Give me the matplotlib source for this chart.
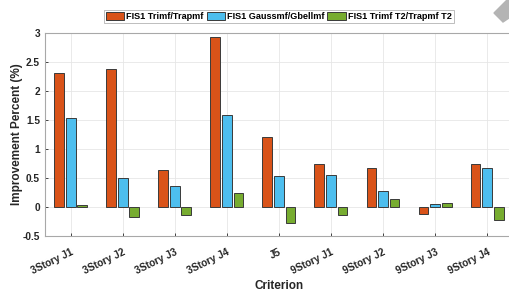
import matplotlib
matplotlib.use('Agg')
import matplotlib.pyplot as plt
from matplotlib.patches import Polygon
import numpy as np

plt.rcParams['font.family'] = ['Liberation Sans', 'DejaVu Sans']
plt.rcParams['font.weight'] = 'bold'

# 数据
criteria = ['3Story J1', '3Story J2', '3Story J3', '3Story J4', 'J5',
            '9Story J1', '9Story J2', '9Story J3', '9Story J4']
trimf = [2.32, 2.38, 0.64, 2.94, 1.20, 0.75, 0.67, -0.12, 0.74]
gauss = [1.53, 0.50, 0.36, 1.58, 0.54, 0.55, 0.27, 0.05, 0.67]
trimf_t2 = [0.03, -0.18, -0.13, 0.25, -0.27, -0.14, 0.13, 0.07, -0.22]
labels = ['FIS1 Trimf/Trapmf', 'FIS1 Gaussmf/Gbellmf', 'FIS1 Trimf T2/Trapmf T2']
colors = ['#D95319', '#4DBEEE', '#77AC30']

W, H = 509, 291
fig = plt.figure(figsize=(W / 100, H / 100), dpi=100)
ax = fig.add_axes([0.088, 0.189, 0.920, 0.697])

x = np.arange(1, len(criteria) + 1)
w = 0.19
for i, (vals, lab, c) in enumerate(zip([trimf, gauss, trimf_t2], labels, colors)):
    ax.bar(x + (i - 1) * 0.222, vals, w, color=c, edgecolor='#3a3a3a',
           linewidth=0.7, label=lab, zorder=3)

ax.set_xlim(0.5, 9.5)
ax.set_ylim(-0.5, 3)
ax.set_yticks([-0.5, 0, 0.5, 1, 1.5, 2, 2.5, 3])
ax.set_yticklabels(['-0.5', '0', '0.5', '1', '1.5', '2', '2.5', '3'])
ax.set_xticks(x)
ax.set_xticklabels(criteria, rotation=26, ha='right', rotation_mode='anchor')
ax.tick_params(labelsize=7.3, colors='#262626', length=2.5, width=0.6, direction='in')
ax.tick_params(axis='x', pad=8)
ax.grid(True, color='#e6e6e6', linewidth=0.6, zorder=0)
for s in ax.spines.values():
    s.set_color('#a8a8a8')
    s.set_linewidth(0.8)

ax.set_xlabel('Criterion', fontsize=8.5, fontweight='bold', color='#262626', labelpad=3)
ax.set_ylabel('Improvement Percent (%)', fontsize=8.5, fontweight='bold', color='#262626', labelpad=0)

leg = ax.legend(loc='lower center', bbox_to_anchor=(0.5, 1.05), ncol=3, fontsize=6.6,
                frameon=True, fancybox=False, edgecolor='#a0a0a0', handlelength=2.0,
                handleheight=0.9, columnspacing=0.3, handletextpad=0.25, borderpad=0.2,
                borderaxespad=0.0)
leg.get_frame().set_linewidth(0.6)

# 右上角的灰色图标
pts = [(494, 13), (507, 0), (509, 0), (509, 18), (503, 22)]
fig.patches.append(Polygon([(px / W, 1 - py / H) for px, py in pts], closed=True,
                           transform=fig.transFigure, color='#b4b4b4', zorder=5))

plt.savefig('out.png', dpi=100)
